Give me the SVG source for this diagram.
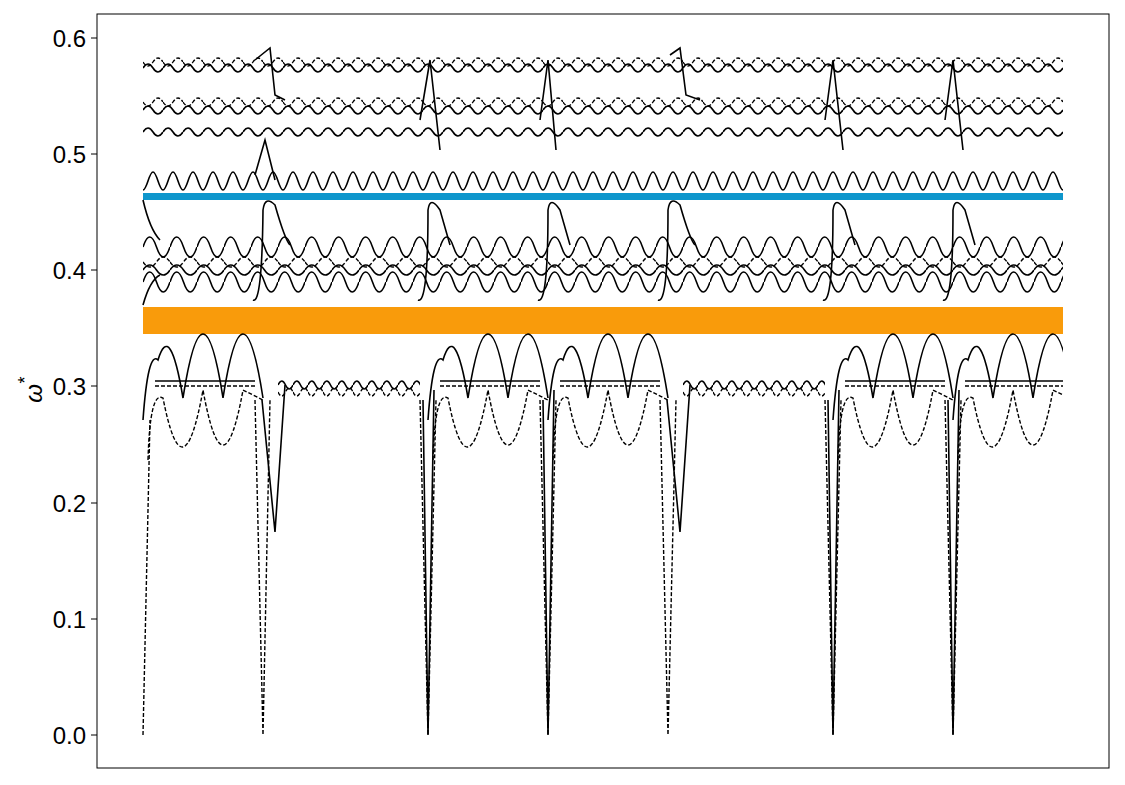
<svg xmlns="http://www.w3.org/2000/svg" width="1125" height="785" viewBox="0 0 1125 785">
<style>
.t{font-family:"Liberation Sans",Arial,sans-serif;font-size:24px;fill:#000}
.s{fill:none;stroke:#000;stroke-width:1.6}
.d{fill:none;stroke:#000;stroke-width:1.4;stroke-dasharray:4 2}
</style>
<defs>
<clipPath id="plot"><rect x="140" y="14" width="923" height="754"/></clipPath>
<pattern id="wm" patternUnits="userSpaceOnUse" width="27" height="40"><path class="s" d="M0 20 Q6.75 0 13.5 20 T27 20"/></pattern>
<pattern id="ws" patternUnits="userSpaceOnUse" width="27" height="40"><path class="s" d="M0 20 Q6.75 10 13.5 20 T27 20"/></pattern>
<pattern id="wd" patternUnits="userSpaceOnUse" width="27" height="40"><path class="d" d="M0 20 Q6.75 30 13.5 20 T27 20"/></pattern>
<pattern id="wu" patternUnits="userSpaceOnUse" width="20" height="40"><path class="s" d="M0 32 C4 32 6 14 10 14 C14 14 16 32 20 32"/></pattern>
<pattern id="wt" patternUnits="userSpaceOnUse" width="20" height="40"><path class="s" d="M0 20 Q5 12 10 20 T20 20"/></pattern>
<pattern id="wtd" patternUnits="userSpaceOnUse" width="20" height="40"><path class="d" d="M0 20 Q5 28 10 20 T20 20"/></pattern>
<pattern id="wb" patternUnits="userSpaceOnUse" width="15" height="40"><path class="s" d="M0 20 Q3.75 12 7.5 20 T15 20"/></pattern>
<pattern id="wbd" patternUnits="userSpaceOnUse" width="15" height="40"><path class="d" d="M0 20 Q3.75 28 7.5 20 T15 20"/></pattern>
</defs>
<rect x="97" y="14" width="1012" height="754" fill="#fff" stroke="#000" stroke-width="1"/>
<g id="axis">
<g stroke="#000"><line x1="91" x2="97" y1="735" y2="735"/><line x1="91" x2="97" y1="619" y2="619"/><line x1="91" x2="97" y1="503" y2="503"/><line x1="91" x2="97" y1="386" y2="386"/><line x1="91" x2="97" y1="270" y2="270"/><line x1="91" x2="97" y1="154" y2="154"/><line x1="91" x2="97" y1="38" y2="38"/></g>
<g class="t" text-anchor="end"><text x="86" y="744">0.0</text><text x="86" y="628">0.1</text><text x="86" y="512">0.2</text><text x="86" y="395">0.3</text><text x="86" y="279">0.4</text><text x="86" y="163">0.5</text><text x="86" y="47">0.6</text></g>
<text class="t" transform="translate(42,390) rotate(-90)" text-anchor="middle" font-style="italic" font-size="28">ω<tspan dy="-11" font-size="18">*</tspan></text>
</g>
<g id="upper">
<g transform="translate(143,158)"><rect width="920" height="40" fill="url(#wu)"/></g>
<g transform="translate(143,112)"><rect width="920" height="40" fill="url(#wt)"/></g>
<g transform="translate(143,90)"><rect width="920" height="40" fill="url(#wt)"/></g>
<g transform="translate(143,82)"><rect width="920" height="40" fill="url(#wtd)"/></g>
<g transform="translate(143,48)"><rect width="920" height="40" fill="url(#wt)"/></g>
<g transform="translate(143,42)"><rect width="920" height="40" fill="url(#wtd)"/></g>
<path class="s" d="M255 60 L270 48 L275 95 L285 100 M670 55 L680 48 L686 95 L700 100 M420 120 L430 60 L440 150 M540 120 L548 60 L556 150 M825 120 L833 60 L843 150 M945 120 L953 60 L963 150 M255 175 L265 140 L275 180"/>
</g>
<rect x="143" y="193" width="920" height="7" fill="#0e96cc"/>
<g id="middle">
<g transform="translate(143,227)"><rect width="920" height="40" fill="url(#wm)"/></g>
<g transform="translate(143,250)"><rect width="920" height="40" fill="url(#ws)"/></g>
<g transform="translate(143,242)"><rect width="920" height="40" fill="url(#wd)"/></g>
<g transform="translate(143,262)"><rect width="920" height="40" fill="url(#wm)"/></g>
<path class="s" d="M143 200 Q150 230 160 240 M143 305 Q150 280 160 275 M253 300 Q262 305 263 210 Q265 195 275 205 Q285 240 290 245 M418 300 Q428 305 428 210 Q430 195 440 210 L450 245 M538 300 Q548 305 548 210 Q550 195 560 210 L570 245 M658 300 Q668 305 668 210 Q670 195 680 205 Q690 240 695 245 M823 300 Q833 305 833 210 Q835 195 845 210 L855 245 M943 300 Q953 305 953 210 Q955 195 965 210 L975 245"/>
</g>
<rect x="143" y="307" width="920" height="27" fill="#f99b0b"/>
<g id="lower" clip-path="url(#plot)">
<g id="segA">
<path class="s" d="M143 420 Q148 350 158 360 Q170 320 183 398 Q203 270 223 398 Q243 270 263 398"/>
<path class="d" d="M148 460 Q150 390 163 398 Q183 500 203 390 Q223 500 243 390 L263 400"/>
<path class="s" d="M155 381 L255 381"/><path class="d" d="M155 386 L255 386"/>
</g>
<use href="#segA" transform="translate(285,0)"/>
<use href="#segA" transform="translate(405,0)"/>
<use href="#segA" transform="translate(690,0)"/>
<use href="#segA" transform="translate(810,0)"/>
<g transform="translate(278,365)"><rect width="142" height="40" fill="url(#wb)"/></g>
<g transform="translate(278,372)"><rect width="142" height="40" fill="url(#wbd)"/></g>
<g transform="translate(683,365)"><rect width="142" height="40" fill="url(#wb)"/></g>
<g transform="translate(683,372)"><rect width="142" height="40" fill="url(#wbd)"/></g>
<path class="d" d="M143 735 L150 420 M255 400 L263 735 L270 400 M420 400 L428 735 L436 400 M540 400 L548 735 L556 400 M660 400 L668 735 L676 400 M825 400 L833 735 L841 400 M945 400 L953 735 L961 400"/>
<path class="s" d="M262 400 L275 532 L285 385 M667 400 L680 532 L690 385 M423 400 L428 735 L434 390 M543 400 L548 735 L554 390 M828 400 L833 735 L839 390 M948 400 L953 735 L959 390"/>
</g>
</svg>
